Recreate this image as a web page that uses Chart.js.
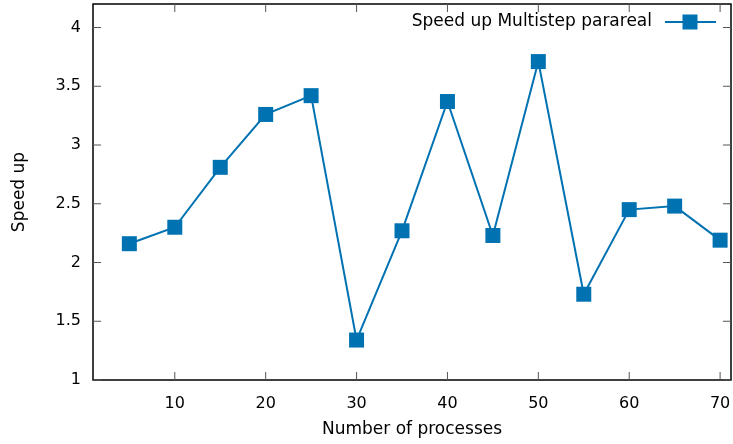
<!DOCTYPE html>
<html>
<head>
<meta charset="utf-8">
<script src="https://cdn.jsdelivr.net/npm/chart.js@4.4.1/dist/chart.umd.min.js"></script>
<style>
  html, body { margin: 0; padding: 0; background: #fff; }
  #wrap { width: 733px; height: 444px; }
</style>
</head>
<body>
<div id="wrap"><canvas id="speedChart" width="733" height="444"></canvas></div>
<script>
// data
const processes = [5, 10, 15, 20, 25, 30, 35, 40, 45, 50, 55, 60, 65, 70];
const speedup = [2.16, 2.30, 2.81, 3.26, 3.42, 1.34, 2.27, 3.37, 2.23, 3.71, 1.73, 2.45, 2.48, 2.19];
const xTicks = [10, 20, 30, 40, 50, 60, 70];
const yTicks = [1, 1.5, 2, 2.5, 3, 3.5, 4];

const blue = "#0072B2";
const tickFont = { family: "DejaVu Sans", size: 16 };
const textFont = { family: "DejaVu Sans", size: 17 };

// pin the plot box to where gnuplot put it
const plotBox = { left: 93, top: 4, right: 731, bottom: 380 };

const pinPlugin = {
  id: "pin",
  afterLayout(chart) {
    const a = chart.chartArea;
    Object.assign(a, plotBox);
    a.width = plotBox.right - plotBox.left;
    a.height = plotBox.bottom - plotBox.top;
    const xs = chart.scales.x, ys = chart.scales.y;
    xs.left = plotBox.left; xs.right = plotBox.right; xs.width = a.width;
    xs.top = plotBox.bottom; xs.bottom = chart.height; xs.height = xs.bottom - xs.top;
    xs.configure();
    ys.top = plotBox.top; ys.bottom = plotBox.bottom; ys.height = a.height;
    ys.left = 0; ys.right = plotBox.left; ys.width = plotBox.left;
    ys.configure();
  }
};

// gnuplot style frame: border box, inward ticks on all sides, legend at top right
const framePlugin = {
  id: "frame",
  afterDraw(chart) {
    const ctx = chart.ctx;
    const a = chart.chartArea;
    const xs = chart.scales.x, ys = chart.scales.y;
    ctx.save();
    ctx.strokeStyle = "#000";
    ctx.lineWidth = 1.5;
    ctx.strokeRect(a.left, a.top, a.right - a.left, a.bottom - a.top);
    ctx.lineWidth = 1;
    ctx.strokeStyle = "#555";
    ctx.beginPath();
    xTicks.forEach(v => {
      const px = xs.getPixelForValue(v);
      ctx.moveTo(px, a.bottom); ctx.lineTo(px, a.bottom - 8);
      ctx.moveTo(px, a.top); ctx.lineTo(px, a.top + 8);
    });
    yTicks.forEach(v => {
      const py = ys.getPixelForValue(v);
      ctx.moveTo(a.left, py); ctx.lineTo(a.left + 8, py);
      ctx.moveTo(a.right, py); ctx.lineTo(a.right - 8, py);
    });
    ctx.stroke();

    // legend
    const ly = 22;
    ctx.fillStyle = "#000";
    ctx.font = textFont.size + "px " + textFont.family;
    ctx.textAlign = "right";
    ctx.textBaseline = "middle";
    ctx.fillText(chart.data.datasets[0].label, 652, ly);
    ctx.strokeStyle = blue;
    ctx.lineWidth = 2;
    ctx.beginPath();
    ctx.moveTo(665, ly); ctx.lineTo(716, ly);
    ctx.stroke();
    ctx.fillStyle = blue;
    ctx.fillRect(690 - 7.5, ly - 7.5, 15, 15);
    ctx.restore();
  }
};

new Chart(document.getElementById("speedChart"), {
  type: "line",
  data: {
    labels: processes,
    datasets: [{
      label: "Speed up Multistep parareal",
      data: processes.map((x, i) => ({ x: x, y: speedup[i] })),
      borderColor: blue,
      backgroundColor: blue,
      borderWidth: 2,
      pointStyle: "rect",
      pointRadius: 10.6,
      pointHoverRadius: 10.6,
      pointBorderWidth: 0,
      tension: 0
    }]
  },
  options: {
    responsive: false,
    animation: false,
    plugins: {
      legend: { display: false },
      tooltip: { enabled: false }
    },
    scales: {
      x: {
        type: "linear",
        min: 1,
        max: 71.2,
        afterBuildTicks: s => { s.ticks = xTicks.map(v => ({ value: v })); },
        grid: { display: false, drawTicks: false },
        border: { display: false },
        ticks: { color: "#000", font: tickFont, padding: 14, maxRotation: 0, callback: v => String(v) },
        title: { display: true, text: "Number of processes", color: "#000", font: textFont, padding: { top: 0, bottom: 4 } }
      },
      y: {
        type: "linear",
        min: 1,
        max: 4.2,
        afterBuildTicks: s => { s.ticks = yTicks.map(v => ({ value: v })); },
        grid: { display: false, drawTicks: false },
        border: { display: false },
        ticks: { color: "#000", font: tickFont, padding: 12, callback: v => String(v) },
        title: { display: true, text: "Speed up", color: "#000", font: textFont, padding: { top: 9, bottom: 0 } }
      }
    }
  },
  plugins: [pinPlugin, framePlugin]
});
</script>
</body>
</html>
